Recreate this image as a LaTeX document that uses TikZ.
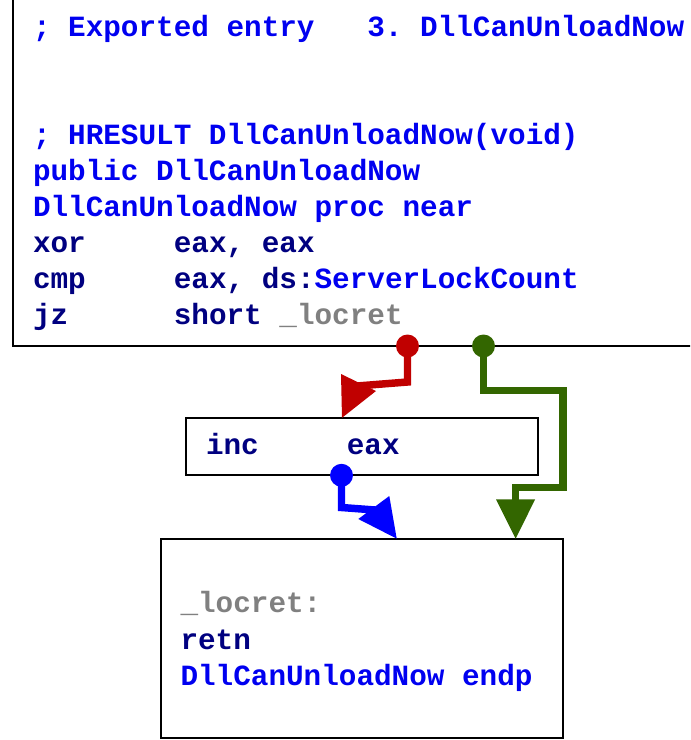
\documentclass[tikz,border=0pt]{standalone}
\usepackage{fontspec}
\newfontfamily\asmfont{Liberation Mono}
\usetikzlibrary{calc}

% IDA-style listing colours
\definecolor{asmcomment}{RGB}{0,0,240}
\definecolor{asmcode}{RGB}{0,0,128}
\definecolor{asmlabel}{RGB}{128,128,128}
\definecolor{edgetaken}{RGB}{192,0,0}
\definecolor{edgejump}{RGB}{51,102,0}
\definecolor{edgefall}{RGB}{0,0,255}

\tikzset{
  codeline/.style={anchor=base west, inner sep=0pt, outer sep=0pt,
    font=\asmfont\bfseries\fontsize{22}{27}\selectfont},
  block/.style={draw=black, line width=1.5pt, inner sep=0pt, outer sep=0pt},
  flow/.style={line width=5.6pt, line join=miter, line cap=butt},
}

\begin{document}
\begin{tikzpicture}[x=0.75pt, y=-0.75pt]
\useasboundingbox (0,0) rectangle (690,740);
\clip (0,0) rectangle (690,740);

% basic blocks
\node[block, anchor=south west, minimum width=515.6pt, minimum height=267pt] (entry) at (12.5,346) {};
\node[block, anchor=north west, minimum width=264pt, minimum height=42.75pt] (incblk) at (185.7,418.3) {};
\node[block, anchor=north west, minimum width=301.5pt, minimum height=149.25pt] (retblk) at (160.7,539.3) {};

% entry block listing
\node[codeline, text=asmcomment] (l1) at (33,36) {;\ Exported\ entry\ \ \ 3.\ DllCanUnloadNow};
\node[codeline, text=asmcomment] (l4) at (33,144.3) {;\ HRESULT\ DllCanUnloadNow(void)};
\node[codeline, text=asmcomment] (l5) at (33,180.4) {public\ DllCanUnloadNow};
\node[codeline, text=asmcomment] (l6) at (33,216.5) {DllCanUnloadNow\ proc\ near};
\node[codeline, text=asmcode] (l7) at (33,252.6) {xor\ \ \ \ \ eax,\ eax};
\node[codeline, text=asmcode] (l8) at (33,288.7) {cmp\ \ \ \ \ eax,\ ds:\textcolor{asmcomment}{ServerLockCount}};
\node[codeline, text=asmcode] (l9) at (33,324.8) {jz\ \ \ \ \ \ short\ \textcolor{asmlabel}{\_locret}};

% fall-through block
\node[codeline, text=asmcode] (m1) at (206,454.3) {inc\ \ \ \ \ eax};

% return block
\node[codeline, text=asmlabel] (r1) at (180.5,612.7) {\_locret:};
\node[codeline, text=asmcode] (r2) at (180.5,649) {retn};
\node[codeline, text=asmcomment] (r3) at (180.5,685) {DllCanUnloadNow\ endp};

% edge anchors
\coordinate (redsrc) at (407.5,346);
\coordinate (redtip) at (342,417.8);
\coordinate (grnsrc) at (483.5,346);
\coordinate (grntip) at (515.6,538.6);
\coordinate (blusrc) at (341.5,475.3);
\coordinate (blutip) at (396.7,538.6);

% jz not taken -> inc eax
\draw[flow, edgetaken] (redsrc) -- (407.5,382) -- (357,386);
\fill[edgetaken] (341,374) -- (376,391) -- (redtip) -- cycle;
\fill[edgetaken] (redsrc) circle[radius=8.6pt];

% jz taken -> _locret
\draw[flow, edgejump] (grnsrc) -- (483.5,390.7) -- (563,390.7) -- (563,487.7) -- (515.6,487.7) -- (515.6,500.5);
\fill[edgejump] (496,499.3) -- (535.2,499.3) -- (grntip) -- cycle;
\fill[edgejump] (grnsrc) circle[radius=8.6pt];

% inc eax -> _locret
\draw[flow, edgefall] (blusrc) -- (341.5,507.5) -- (375,510);
\fill[edgefall] (358.3,519) -- (389.3,496) -- (blutip) -- cycle;
\fill[edgefall] (blusrc) circle[radius=8.6pt];
\end{tikzpicture}
\end{document}
